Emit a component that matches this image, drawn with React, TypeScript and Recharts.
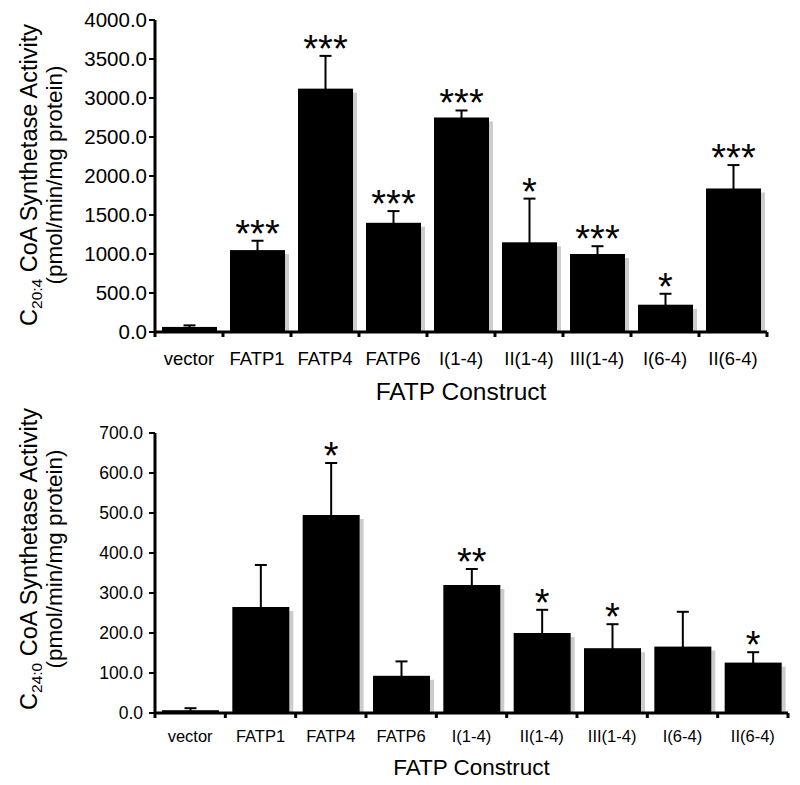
import React from 'react'
import { BarChart, Bar, XAxis, YAxis, ErrorBar, LabelList } from 'recharts'

const CONSTRUCTS = ['vector', 'FATP1', 'FATP4', 'FATP6', 'I(1-4)', 'II(1-4)', 'III(1-4)', 'I(6-4)', 'II(6-4)']

// C20:4 panel (top)
const C204_ACTIVITY = [65, 1050, 3120, 1400, 2750, 1150, 1000, 350, 1840]
const C204_SEM = [20, 120, 420, 150, 90, 560, 100, 140, 300]
const C204_SIG = ['', '***', '***', '***', '***', '*', '***', '*', '***']
const C204_TICKS = [0, 500, 1000, 1500, 2000, 2500, 3000, 3500, 4000]

// C24:0 panel (bottom)
const C240_ACTIVITY = [7, 265, 495, 93, 320, 200, 162, 166, 126]
const C240_SEM = [5, 105, 130, 36, 40, 58, 60, 87, 26]
const C240_SIG = ['', '', '*', '', '**', '*', '*', '', '*']
const C240_TICKS = [0, 100, 200, 300, 400, 500, 600, 700]

const FONT = '"Liberation Sans", Arial, Helvetica, sans-serif'

function ShadowBar(props: any) {
  const { x, y, width, height } = props
  if (!height || height <= 0) return null
  return (
    <g>
      <rect x={x + width} y={y + 4} width={4} height={Math.max(height - 4, 0)} fill="#cccccc" />
      <rect x={x} y={y} width={width} height={height} fill="#000" />
    </g>
  )
}

interface PanelProps {
  top: number
  height: number
  marginTop: number
  marginRight: number
  axisHeight: number
  barSize: number
  values: number[]
  sem: number[]
  sig: string[]
  ticks: number[]
  sub: string
  yTickSize: number
  xTickSize: number
  xLabelDy: number
  titleSize: number
  titleDy: number
  yLabelShift: number
  yTickMargin: number
}

function Panel(p: PanelProps) {
  const data = CONSTRUCTS.map((name, i) => ({
    name,
    value: p.values[i],
    err: p.sem[i],
    sig: p.sig[i],
  }))
  const plotWidth = 800 - 155 - p.marginRight
  const half = plotWidth / CONSTRUCTS.length / 2
  const last = CONSTRUCTS[CONSTRUCTS.length - 1]

  const xTick = (props: any) => {
    const { x, y, payload } = props
    return (
      <g>
        <line x1={x - half} y1={y} x2={x - half} y2={y + 5} stroke="#000" strokeWidth={3} />
        {payload.value === last && (
          <line x1={x + half} y1={y} x2={x + half} y2={y + 5} stroke="#000" strokeWidth={3} />
        )}
        <text x={x} y={y + p.xLabelDy} textAnchor="middle" fontSize={p.xTickSize} fontFamily={FONT} fill="#000">
          {payload.value}
        </text>
      </g>
    )
  }

  const yLabel = (props: any) => {
    const vb = props.viewBox || {}
    const cy = (vb.y ?? p.marginTop) + (vb.height ?? 300) / 2 + p.yLabelShift
    return (
      <g fontFamily={FONT} fill="#000">
        <text transform={`translate(37, ${cy}) rotate(-90)`} textAnchor="middle" fontSize={23.5}>
          C<tspan fontSize={15.5} dy={5}>{p.sub}</tspan>
          <tspan dy={-5}> CoA Synthetase Activity</tspan>
        </text>
        <text transform={`translate(62, ${cy}) rotate(-90)`} textAnchor="middle" fontSize={22.5}>
          (pmol/min/mg protein)
        </text>
      </g>
    )
  }

  const xTitle = (props: any) => {
    const vb = props.viewBox || {}
    const cx = (vb.x ?? 155) + (vb.width ?? plotWidth) / 2
    const y = (vb.y ?? p.height - p.axisHeight) + p.titleDy
    return (
      <text x={cx} y={y} textAnchor="middle" fontSize={p.titleSize} fontFamily={FONT} fill="#000">
        FATP Construct
      </text>
    )
  }

  const stars = (props: any) => {
    const { x, y, width, height, index, value } = props
    if (!value) return null
    const v = p.values[index]
    const perUnit = v > 0 ? height / v : 0
    const errTop = y - p.sem[index] * perUnit
    return (
      <text x={x + width / 2} y={errTop + 6} textAnchor="middle" fontSize={38} fontFamily={FONT} fill="#000">
        {value}
      </text>
    )
  }

  return (
    <div style={{ position: 'absolute', left: 0, top: p.top }}>
      <BarChart
        width={800}
        height={p.height}
        data={data}
        margin={{ top: p.marginTop, right: p.marginRight, left: 0, bottom: 0 }}
        barSize={p.barSize}
      >
        <XAxis
          dataKey="name"
          height={p.axisHeight}
          axisLine={{ stroke: '#000', strokeWidth: 3 }}
          tickLine={false}
          tickSize={0}
          tickMargin={0}
          interval={0}
          tick={xTick}
          label={{ content: xTitle }}
        />
        <YAxis
          width={155}
          domain={[0, p.ticks[p.ticks.length - 1]]}
          ticks={p.ticks}
          allowDataOverflow
          tickFormatter={(v: number) => v.toFixed(1)}
          axisLine={{ stroke: '#000', strokeWidth: 3 }}
          tickLine={{ stroke: '#000', strokeWidth: 2 }}
          tickSize={6}
          tickMargin={p.yTickMargin}
          tick={{ fill: '#000', fontSize: p.yTickSize, fontFamily: FONT }}
          label={{ content: yLabel }}
        />
        <Bar dataKey="value" shape={ShadowBar} isAnimationActive={false}>
          <ErrorBar dataKey="err" direction="y" width={6} stroke="#000" strokeWidth={2} isAnimationActive={false} />
          <LabelList dataKey="sig" content={stars} />
        </Bar>
      </BarChart>
    </div>
  )
}

export default function App() {
  return (
    <div style={{ position: 'absolute', left: 0, top: 0, width: 800, height: 785, background: '#fff' }}>
      <Panel
        top={0}
        height={410}
        marginTop={20}
        marginRight={33}
        axisHeight={78}
        barSize={55}
        values={C204_ACTIVITY}
        sem={C204_SEM}
        sig={C204_SIG}
        ticks={C204_TICKS}
        sub="20:4"
        yTickSize={20.5}
        xTickSize={18.5}
        xLabelDy={33}
        titleSize={24.5}
        titleDy={68}
        yLabelShift={-1}
        yTickMargin={2}
      />
      <Panel
        top={395}
        height={390}
        marginTop={38}
        marginRight={12}
        axisHeight={72}
        barSize={57}
        values={C240_ACTIVITY}
        sem={C240_SEM}
        sig={C240_SIG}
        ticks={C240_TICKS}
        sub="24:0"
        yTickSize={17.5}
        xTickSize={16.5}
        xLabelDy={29}
        titleSize={22.5}
        titleDy={62}
        yLabelShift={-14}
        yTickMargin={6}
      />
    </div>
  )
}
